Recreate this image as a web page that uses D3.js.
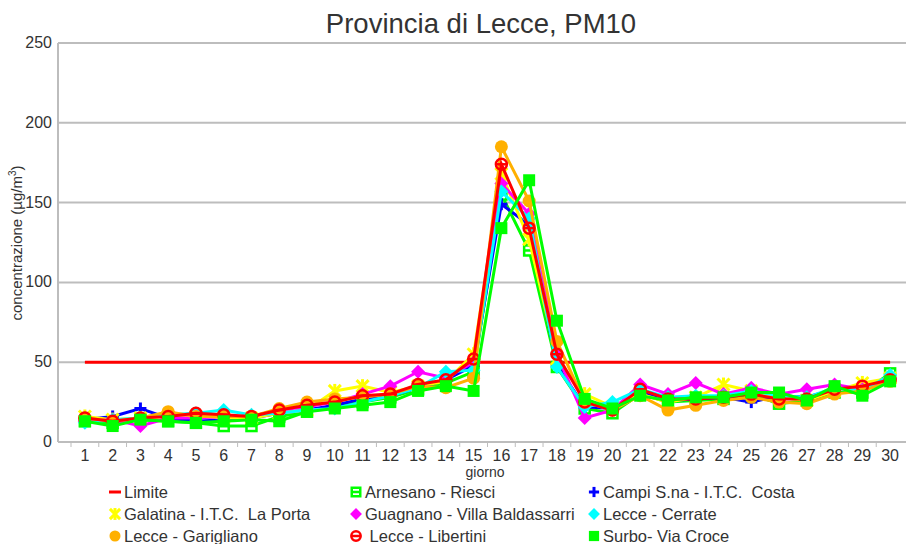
<!DOCTYPE html>
<html>
<head>
<meta charset="utf-8">
<script src="https://cdn.jsdelivr.net/npm/d3@7"></script>
<style>
  body { margin: 0; background: #fff; }
  text { font-family: "Liberation Sans", Arial, sans-serif; fill: #333; white-space: pre; }
</style>
</head>
<body>
<div id="chart"></div>
<script>
var days = d3.range(1, 31);
var yTicks = [0, 50, 100, 150, 200, 250];

var limite = days.map(function() { return 50; });
var arnesano = [13,12,14,13,12,10,10,16,19,23,25,28,33,37,44,155,120,47,21,18,30,25,26,27,30,24,26,31,31,43];
var campi = [14,16,21,15,13,14,15,18,20,23,27,29,34,39,48,149,136,48,22,21,32,26,27,28,25,29,28,33,34,40];
var galatina = [16,14,15,16,16,15,15,18,20,32,35,31,35,38,55,168,127,52,30,22,30,25,28,36,32,28,26,32,37,40];
var guagnano = [13,14,10,15,15,16,16,20,22,25,30,35,44,40,50,162,143,55,15,20,36,30,37,30,34,30,33,36,33,40];
var cerrate = [12,14,15,17,18,20,17,18,20,21,25,29,34,44,45,157,140,47,22,25,33,28,29,29,32,29,28,34,32,42];
var garigliano = [15,13,15,19,16,16,16,21,25,27,28,30,35,34,40,185,151,63,25,20,29,20,23,26,28,25,24,30,32,38];
var libertini = [15,13,15,16,18,17,16,20,23,25,29,30,36,39,52,174,134,55,25,20,33,27,27,28,30,27,27,33,35,39];
var surbo = [13,10,14,13,12,13,14,13,19,21,23,25,32,35,32,134,164,76,27,21,29,26,28,28,31,31,26,35,29,38];

var series = [
  { name: "Limite", values: limite, color: "#ff0000", marker: "none" },
  { name: "Arnesano - Riesci", values: arnesano, color: "#00ff00", marker: "hollowSquare" },
  { name: "Campi S.na - I.T.C.  Costa", values: campi, color: "#0000ff", marker: "plus" },
  { name: "Galatina - I.T.C.  La Porta", values: galatina, color: "#ffff00", marker: "star" },
  { name: "Guagnano - Villa Baldassarri", values: guagnano, color: "#ff00ff", marker: "diamond" },
  { name: "Lecce - Cerrate", values: cerrate, color: "#00ffff", marker: "diamond" },
  { name: "Lecce - Garigliano", values: garigliano, color: "#ffb000", marker: "circle" },
  { name: " Lecce - Libertini", values: libertini, color: "#ff0000", marker: "hollowCircle" },
  { name: "Surbo- Via Croce", values: surbo, color: "#00ff00", marker: "square" }
];

var width = 908, height = 544;
var svg = d3.select("#chart").append("svg")
    .attr("width", width)
    .attr("height", height);

var x = d3.scaleBand().domain(days).range([71, 904]);
var y = d3.scaleLinear().domain([0, 250]).range([442, 43]);

function cx(d) { return x(d) + x.bandwidth() / 2; }

// title
svg.append("text")
    .attr("x", 481).attr("y", 33)
    .attr("text-anchor", "middle")
    .style("font-size", "27.5px")
    .text("Provincia di Lecce, PM10");

// grid lines
svg.selectAll(".grid")
    .data(yTicks)
    .enter().append("line")
    .attr("x1", 58).attr("x2", 906)
    .attr("y1", function(d) { return y(d); })
    .attr("y2", function(d) { return y(d); })
    .attr("stroke", "#bdbdbd")
    .attr("stroke-width", 2);

// y axis line
svg.append("line")
    .attr("x1", 58).attr("x2", 58)
    .attr("y1", y(250)).attr("y2", y(0))
    .attr("stroke", "#bdbdbd").attr("stroke-width", 2);

// y tick labels
svg.selectAll(".ylab")
    .data(yTicks)
    .enter().append("text")
    .attr("x", 52)
    .attr("y", function(d) { return y(d) + 5; })
    .attr("text-anchor", "end")
    .style("font-size", "16px")
    .text(function(d) { return d; });

// x tick marks and labels
svg.selectAll(".xtick")
    .data(days)
    .enter().append("line")
    .attr("x1", function(d) { return x(d); })
    .attr("x2", function(d) { return x(d); })
    .attr("y1", y(0)).attr("y2", y(0) + 5)
    .attr("stroke", "#bdbdbd").attr("stroke-width", 1);

svg.selectAll(".xlab")
    .data(days)
    .enter().append("text")
    .attr("x", function(d) { return cx(d); })
    .attr("y", 461)
    .attr("text-anchor", "middle")
    .style("font-size", "16px")
    .text(function(d) { return d; });

// axis titles
svg.append("text")
    .attr("x", 485).attr("y", 477)
    .attr("text-anchor", "middle")
    .style("font-size", "14px")
    .text("giorno");

var yt = svg.append("text")
    .attr("transform", "translate(22," + 243 + ") rotate(-90)")
    .attr("text-anchor", "middle")
    .style("font-size", "15px");
yt.append("tspan").text("concentrazione (µg/m");
yt.append("tspan").attr("dy", -6).style("font-size", "10px").text("3");
yt.append("tspan").attr("dy", 6).text(")");

// marker drawing
function drawMarker(g, m, color, size) {
  var s = size || 1;
  if (m === "hollowSquare") {
    g.append("rect").attr("x", -5 * s).attr("y", -5 * s).attr("width", 10 * s).attr("height", 10 * s)
      .attr("fill", "#fff").attr("stroke", color).attr("stroke-width", 2.5);
    g.append("line").attr("x1", -5 * s).attr("x2", 5 * s).attr("y1", 0).attr("y2", 0)
      .attr("stroke", color).attr("stroke-width", 2.5);
  } else if (m === "square") {
    g.append("rect").attr("x", -6 * s).attr("y", -6 * s).attr("width", 12 * s).attr("height", 12 * s)
      .attr("fill", color);
  } else if (m === "plus") {
    g.append("line").attr("x1", -6 * s).attr("x2", 6 * s).attr("y1", 0).attr("y2", 0)
      .attr("stroke", color).attr("stroke-width", 3);
    g.append("line").attr("x1", 0).attr("x2", 0).attr("y1", -6 * s).attr("y2", 6 * s)
      .attr("stroke", color).attr("stroke-width", 3);
  } else if (m === "star") {
    [[-6, -6, 6, 6], [-6, 6, 6, -6], [0, -7, 0, 7]].forEach(function(l) {
      g.append("line").attr("x1", l[0] * s).attr("y1", l[1] * s).attr("x2", l[2] * s).attr("y2", l[3] * s)
        .attr("stroke", color).attr("stroke-width", 3);
    });
  } else if (m === "diamond") {
    g.append("path").attr("d", "M0," + (-7 * s) + "L" + (7 * s) + ",0L0," + (7 * s) + "L" + (-7 * s) + ",0Z")
      .attr("fill", color);
  } else if (m === "circle") {
    g.append("circle").attr("r", 6.5 * s).attr("fill", color);
  } else if (m === "hollowCircle") {
    g.append("circle").attr("r", 5.5 * s).attr("fill", "none").attr("stroke", color).attr("stroke-width", 2.5);
    g.append("line").attr("x1", -5 * s).attr("x2", 5 * s).attr("y1", 0).attr("y2", 0)
      .attr("stroke", color).attr("stroke-width", 2.5);
  } else if (m === "line") {
    g.append("line").attr("x1", -6).attr("x2", 6).attr("y1", 0).attr("y2", 0)
      .attr("stroke", color).attr("stroke-width", 3);
  }
}

var line = d3.line()
    .x(function(d, i) { return cx(days[i]); })
    .y(function(d) { return y(d); });

series.forEach(function(s) {
  var g = svg.append("g");
  g.append("path")
    .datum(s.values)
    .attr("d", line)
    .attr("fill", "none")
    .attr("stroke", s.color)
    .attr("stroke-width", 3);
  if (s.marker !== "none") {
    s.values.forEach(function(v, i) {
      var mg = g.append("g").attr("transform", "translate(" + cx(days[i]) + "," + y(v) + ")");
      drawMarker(mg, s.marker, s.color);
    });
  }
});

// legend
var legCols = [115, 356, 594];
var legRows = [492, 514, 536];
series.forEach(function(s, i) {
  var lx = legCols[i % 3], ly = legRows[Math.floor(i / 3)];
  var lg = svg.append("g").attr("transform", "translate(" + lx + "," + ly + ")");
  drawMarker(lg, s.marker === "none" ? "line" : s.marker, s.color, 0.85);
  lg.append("text")
    .attr("x", 9).attr("y", 6)
    .style("font-size", "16.5px")
    .text(s.name);
});
</script>
</body>
</html>
